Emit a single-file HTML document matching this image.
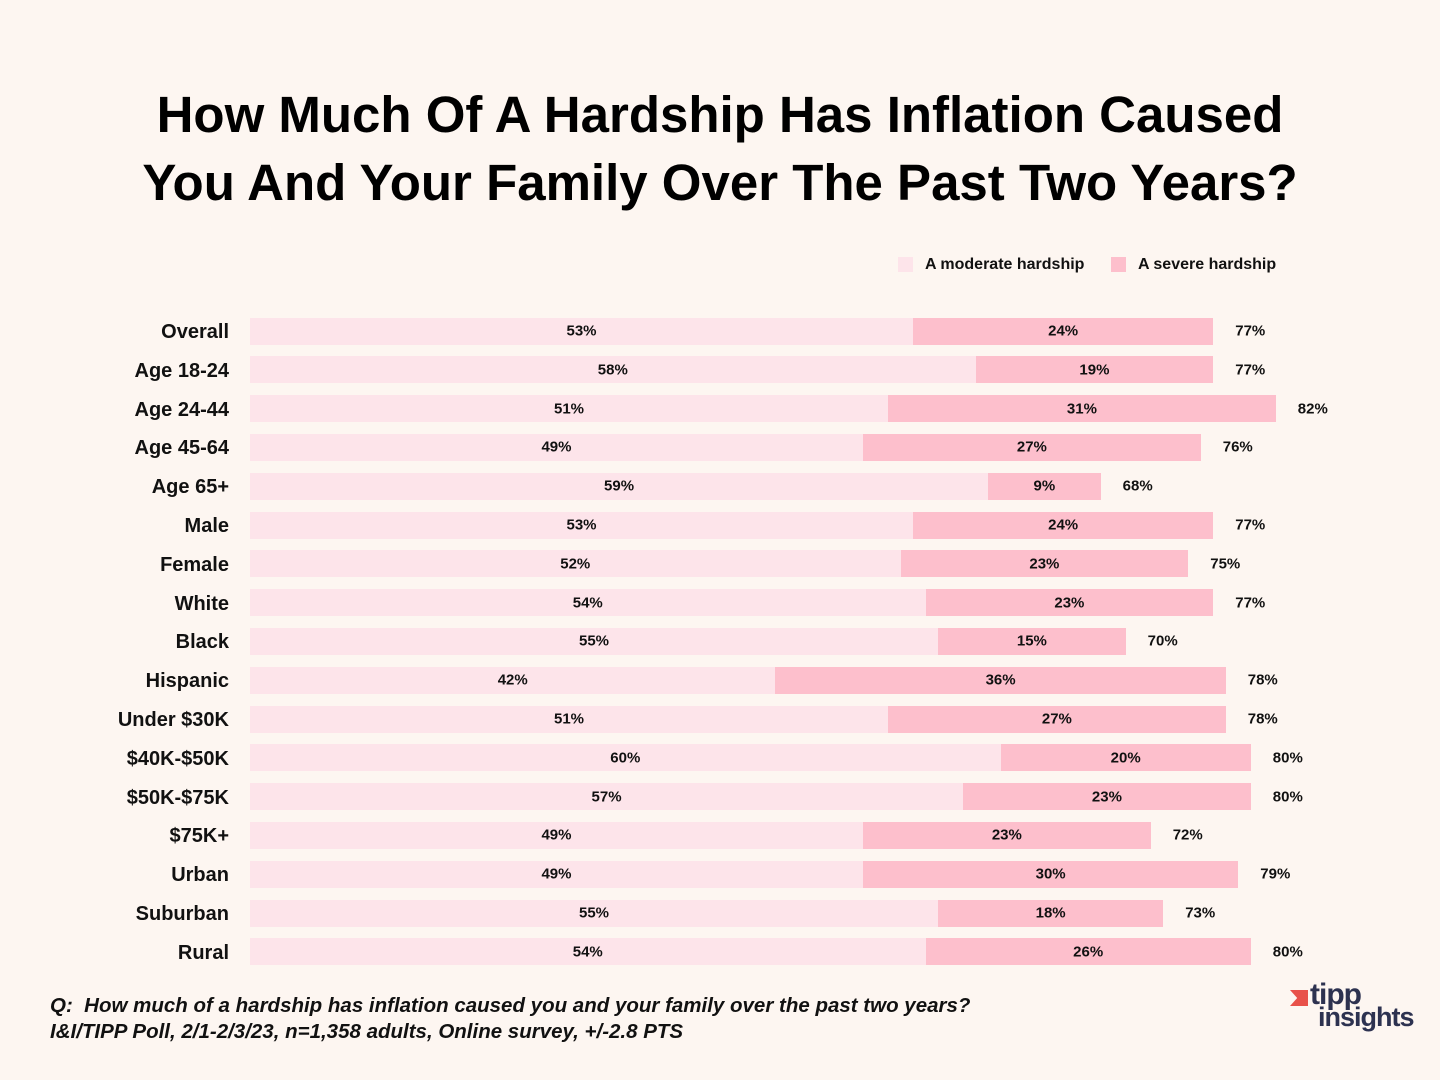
<!DOCTYPE html>
<html><head><meta charset="utf-8"><style>
body{margin:0;background:#fdf6f1;font-family:"Liberation Sans",sans-serif;}
#wrap{position:relative;width:1440px;height:1080px;overflow:hidden;background:#fdf6f1;}
h1{position:absolute;left:0;top:81px;width:1440px;margin:0;text-align:center;font-size:51px;line-height:68px;font-weight:bold;color:#000;}
.lbl{position:absolute;right:1211px;font-size:20px;font-weight:bold;color:#111;text-align:right;white-space:nowrap;}
.bar{position:absolute;height:27px;}
.v{position:absolute;font-size:15px;font-weight:bold;color:#111;transform:translate(-50%,-50%);white-space:nowrap;}
.foot{position:absolute;left:50px;font-size:20.5px;font-style:italic;font-weight:bold;color:#111;}
</style></head><body>
<div id="wrap">
<h1>How Much Of A Hardship Has Inflation Caused<br>You And Your Family Over The Past Two Years?</h1>
<div>
<div style="position:absolute;left:898px;top:257px;width:15px;height:15px;background:#fde4ea"></div>
<div style="position:absolute;left:925px;top:256px;font-size:16px;font-weight:bold;color:#111">A moderate hardship</div>
<div style="position:absolute;left:1111px;top:257px;width:15px;height:15px;background:#fdbfcc"></div>
<div style="position:absolute;left:1138px;top:256px;font-size:16px;font-weight:bold;color:#111">A severe hardship</div>
</div>
<div id="plot"></div>
<div class="foot" style="top:994px">Q:&nbsp; How much of a hardship has inflation caused you and your family over the past two years?</div>
<div class="foot" style="top:1020px">I&amp;I/TIPP Poll, 2/1-2/3/23, n=1,358 adults, Online survey, +/-2.8 PTS</div>
<div style="position:absolute;left:1282px;top:984px;">
<div style="position:absolute;left:8px;top:6px;width:18px;height:16px;background:#e8514a;clip-path:polygon(0 0,100% 0,100% 100%,0 100%,40% 50%)"></div>
<div style="position:absolute;left:28px;top:-6px;font-size:30px;font-weight:bold;color:#2d3250;letter-spacing:-1px">tipp</div>
<div style="position:absolute;left:36px;top:18px;font-size:27px;font-weight:bold;color:#2d3250;letter-spacing:-1px">insights</div>
</div>
</div>
<script>
const categories=["Overall","Age 18-24","Age 24-44","Age 45-64","Age 65+","Male","Female","White","Black","Hispanic","Under $30K","$40K-$50K","$50K-$75K","$75K+","Urban","Suburban","Rural"];
const moderate=[53,58,51,49,59,53,52,54,55,42,51,60,57,49,49,55,54];
const severe=[24,19,31,27,9,24,23,23,15,36,27,20,23,23,30,18,26];
const totals=[77,77,82,76,68,77,75,77,70,78,78,80,80,72,79,73,80];
const x0=250,pxPer=12.51,y0=331,step=38.8,bh=27;
const xs=v=>x0+v*pxPer;
const ys=i=>y0+i*step;
const plot=document.getElementById('plot');
categories.forEach((c,i)=>{
  const cy=ys(i);
  const l=document.createElement('div');l.className='lbl';l.textContent=c;
  l.style.top=(cy-10)+'px';
  
  
  plot.appendChild(l);
  const m=document.createElement('div');m.className='bar';
  m.style.left=xs(0)+'px';m.style.width=(xs(moderate[i])-xs(0))+'px';m.style.top=(cy-bh/2)+'px';m.style.background='#fde4ea';
  
  
  plot.appendChild(m);
  const s=document.createElement('div');s.className='bar';
  s.style.left=xs(moderate[i])+'px';s.style.width=(xs(moderate[i]+severe[i])-xs(moderate[i]))+'px';s.style.top=(cy-bh/2)+'px';s.style.background='#fdbfcc';
  
  
  plot.appendChild(s);
  const a=document.createElement('div');a.className='v';a.textContent=moderate[i]+'%';
  a.style.left=xs(moderate[i]/2)+'px';a.style.top=cy+'px';
  
  
  plot.appendChild(a);
  const b=document.createElement('div');b.className='v';b.textContent=severe[i]+'%';
  b.style.left=xs(moderate[i]+severe[i]/2)+'px';b.style.top=cy+'px';
  
  
  plot.appendChild(b);
  const t=document.createElement('div');t.className='v';t.textContent=totals[i]+'%';
  t.style.left=(xs(moderate[i]+severe[i])+37)+'px';t.style.top=cy+'px';
  
  
  plot.appendChild(t);
});
</script>
</body></html>
